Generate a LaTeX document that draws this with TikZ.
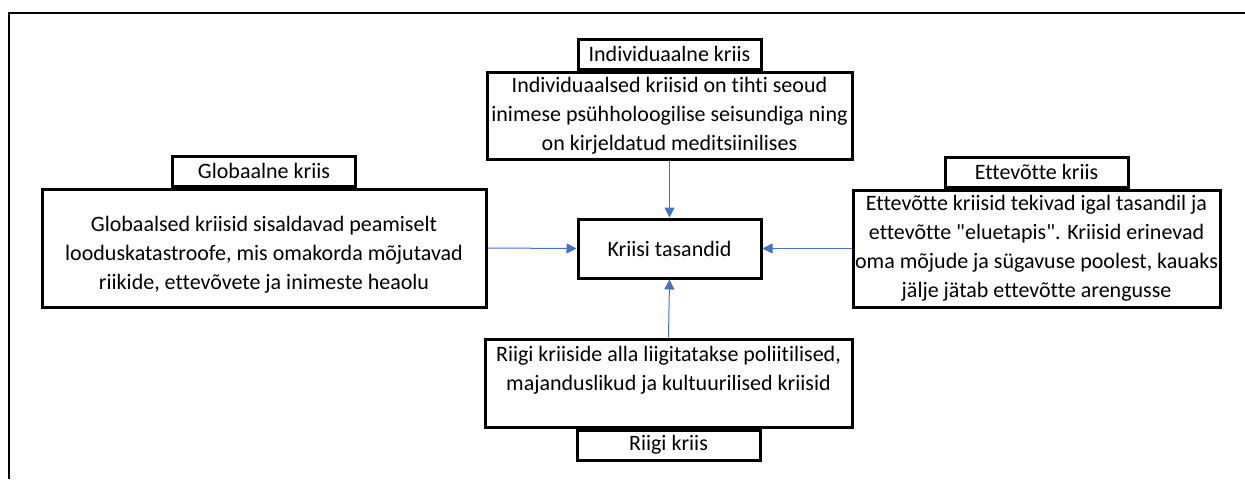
\documentclass[tikz,border=0pt]{standalone}
\usepackage{fontspec}
\setmainfont{Carlito}[Ligatures={TeXOff,NoCommon}]
\usepackage{xcolor}
\definecolor{LinkBlue}{RGB}{68,114,196}
\usetikzlibrary{arrows.meta, positioning}

\begin{document}
\begin{tikzpicture}[
    x=0.75pt, y=-0.75pt,
    font=\fontsize{16.5}{21.75}\selectfont,
    level_box/.style={draw, line width=2.25pt, fill=white, align=center, inner sep=0pt},
    level_tag/.style={draw, line width=2.25pt, fill=white, minimum width=137.25pt, minimum height=22.5pt, inner sep=0pt},
    link/.style={-{Triangle[length=7.5pt, width=7.5pt]}, LinkBlue, line width=0.75pt}
]
    \useasboundingbox (0,0) rectangle (1245,479);

    % 1. OUTER FRAME
    \draw[line width=1.9pt] (9,479) -- (9,13) -- (1245,13);

    % 2. CENTRE
    \node[level_box, minimum width=137.25pt, minimum height=44.25pt] (core) at (669.5,248.5) {Kriisi tasandid};

    % 3. FOUR LEVELS
    \node[level_box, minimum width=273.75pt, minimum height=65.25pt] (indiv) at (669.5,115.5)
        {Individuaalsed kriisid on tihti seoud\\inimese psühholoogilise seisundiga ning\\on kirjeldatud meditsiinilises};
    \node[level_tag, anchor=south] (indiv_tag) at (indiv.north) {Individuaalne kriis};

    \node[level_box, minimum width=333pt, minimum height=88.5pt] (glob) at (264,248)
        {\mbox{}\\Globaalsed kriisid sisaldavad peamiselt\\looduskatastroofe, mis omakorda mõjutavad\\riikide, ettevõvete ja inimeste heaolu};
    \node[level_tag, anchor=south] (glob_tag) at (glob.north) {Globaalne kriis};

    \node[level_box, minimum width=275.25pt, minimum height=87.75pt] (firm) at (1036.5,248.5)
        {Ettevõtte kriisid tekivad igal tasandil ja\\ettevõtte "eluetapis". Kriisid erinevad\\oma mõjude ja sügavuse poolest, kauaks\\jälje jätab ettevõtte arengusse};
    \node[level_tag, anchor=south] (firm_tag) at (firm.north) {Ettevõtte kriis};

    \node[level_box, minimum width=275.25pt, minimum height=66pt] (state) at (668.5,383)
        {Riigi kriiside alla liigitatakse poliitilised,\\majanduslikud ja kultuurilised kriisid\\\mbox{}};
    \node[level_tag, anchor=north] (state_tag) at (state.south) {Riigi kriis};

    % 4. LINKS
    \draw[link] (indiv.south) -- (core.north);
    \draw[link] (glob.east) -- (core.west);
    \draw[link] (firm.west) -- (core.east);
    \draw[link] (state.north) -- (core.south);

\end{tikzpicture}
\end{document}
